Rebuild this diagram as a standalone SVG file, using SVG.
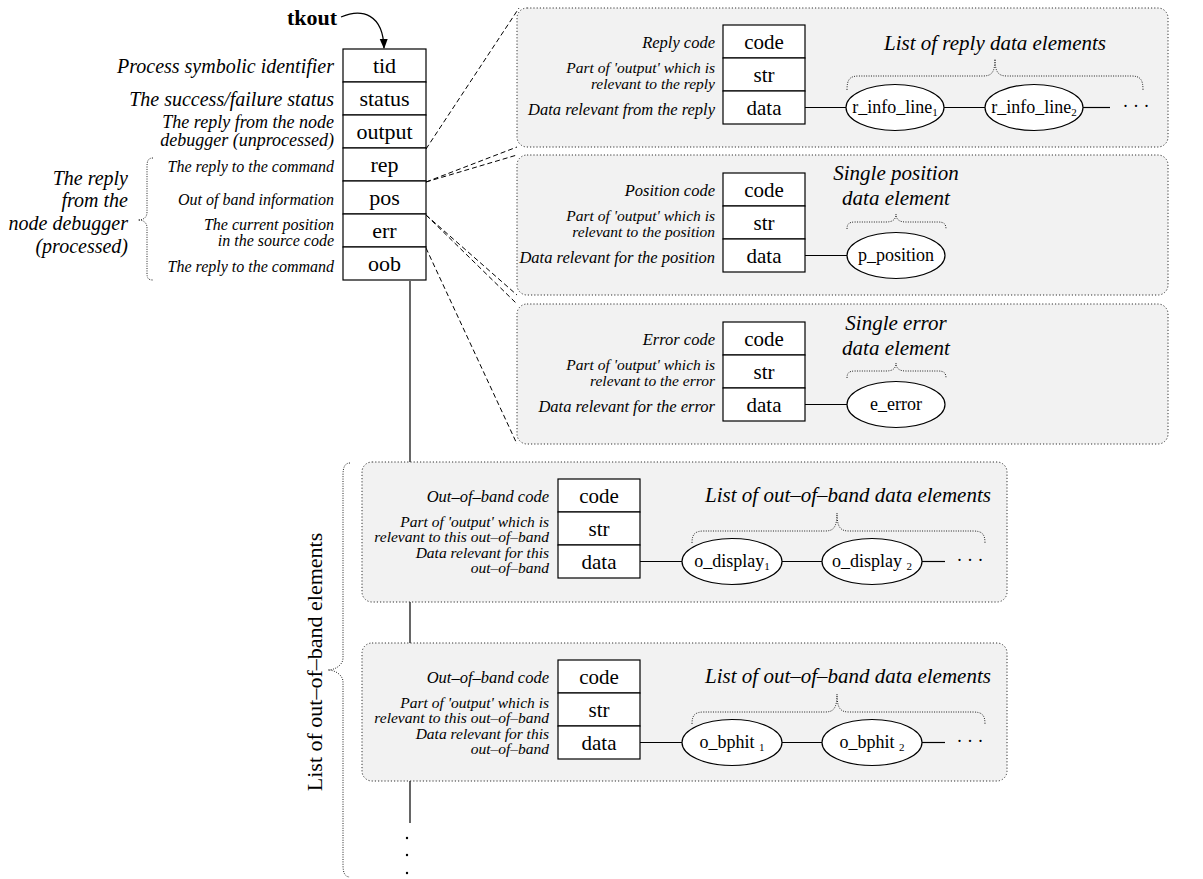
<svg xmlns="http://www.w3.org/2000/svg" width="1203" height="879" viewBox="0 0 1203 879" font-family="'Liberation Serif', 'Times New Roman', serif">
  <defs>
    <marker id="arrowhead" viewBox="0 0 10 10" refX="9" refY="5" markerWidth="10" markerHeight="10" markerUnits="userSpaceOnUse" orient="auto">
      <path d="M0,1 L10,5 L0,9 Z" fill="#000"/>
    </marker>
  </defs>
  <style>
    text { font-family: "Liberation Serif", "Times New Roman", serif; fill: #000; }
    .lbl { font-style: italic; text-anchor: end; }
    .lbl-big { font-size: 20px; }
    .lbl-mid { font-size: 18px; }
    .lbl-small { font-size: 16px; }
    .plbl { font-size: 16.5px; }
    .olbl { font-size: 15.5px; }
    .title { font-style: italic; font-size: 21px; text-anchor: middle; }
    .cell { font-size: 22px; text-anchor: middle; }
    .pcell { font-size: 21px; text-anchor: middle; }
    .elt { font-size: 18px; text-anchor: middle; }
    .sub { font-size: 11px; }
    .box { fill: #fff; stroke: #000; stroke-width: 1.2; }
    .panel { fill: #f2f2f2; stroke: #333; stroke-width: 1; stroke-dasharray: 1.2 2; }
    .brace { fill: none; stroke: #222; stroke-width: 1; stroke-dasharray: 1 1.4; }
    .link { fill: none; stroke: #000; stroke-width: 1.2; }
    .zoom { fill: none; stroke: #000; stroke-width: 1; stroke-dasharray: 5 3; }
    .ell { fill: #fff; stroke: #000; stroke-width: 1.2; }
  </style>

  <!-- connectors: oob chain, zoom-out lines, pointer arrow -->
  <g id="connectors">
    <line class="link" x1="410" y1="281" x2="410" y2="823"/>
    <circle cx="407" cy="838" r="1.2" fill="#000"/>
    <circle cx="407" cy="855" r="1.2" fill="#000"/>
    <circle cx="407" cy="873" r="1.2" fill="#000"/>
    <line class="zoom" x1="426" y1="149" x2="519" y2="8"/>
    <line class="zoom" x1="426" y1="182" x2="517" y2="147"/>
    <line class="zoom" x1="426" y1="182" x2="517" y2="155"/>
    <line class="zoom" x1="426" y1="215" x2="517" y2="295"/>
    <line class="zoom" x1="426" y1="215" x2="517" y2="304"/>
    <line class="zoom" x1="426" y1="248" x2="517" y2="444"/>
    <path class="link" d="M341,17 C362,8 383,14 384,48" marker-end="url(#arrowhead)"/>
  </g>

  <!-- tkout structure -->
  <g id="tkout">
    <text x="337" y="25" font-weight="bold" font-size="22" text-anchor="end">tkout</text>
    <rect class="box" x="343" y="49" width="83" height="33"/>
    <rect class="box" x="343" y="82" width="83" height="33"/>
    <rect class="box" x="343" y="115" width="83" height="33"/>
    <rect class="box" x="343" y="148" width="83" height="33"/>
    <rect class="box" x="343" y="181" width="83" height="33"/>
    <rect class="box" x="343" y="214" width="83" height="33"/>
    <rect class="box" x="343" y="247" width="83" height="33"/>
    <text class="cell" x="384.5" y="73">tid</text>
    <text class="cell" x="384.5" y="106">status</text>
    <text class="cell" x="384.5" y="139">output</text>
    <text class="cell" x="384.5" y="172">rep</text>
    <text class="cell" x="384.5" y="205">pos</text>
    <text class="cell" x="384.5" y="238">err</text>
    <text class="cell" x="384.5" y="271">oob</text>

    <text class="lbl lbl-big" x="334" y="73">Process symbolic identifier</text>
    <text class="lbl lbl-big" x="334" y="106">The success/failure status</text>
    <text class="lbl lbl-mid" x="334" y="128">The reply from the node</text>
    <text class="lbl lbl-mid" x="334" y="146">debugger (unprocessed)</text>
    <text class="lbl lbl-small" x="334" y="172">The reply to the command</text>
    <text class="lbl lbl-small" x="334" y="205">Out of band information</text>
    <text class="lbl lbl-small" x="334" y="230">The current position</text>
    <text class="lbl lbl-small" x="334" y="246">in the source code</text>
    <text class="lbl lbl-small" x="334" y="272">The reply to the command</text>

    <path class="brace" d="M153,158 C148,158 147,161 147,167 L147,212 C147,217 144,220 138,220 C144,220 147,223 147,228 L147,273 C147,278 148,280 153,280"/>
    <text class="lbl lbl-big" x="128" y="185">The reply</text>
    <text class="lbl lbl-big" x="128" y="207">from the</text>
    <text class="lbl lbl-big" x="128" y="230">node debugger</text>
    <text class="lbl lbl-big" x="128" y="253">(processed)</text>
  </g>

  <!-- reply record -->
  <g id="reply">
    <rect class="panel" x="517" y="8" width="651" height="139" rx="10"/>
    <text class="lbl plbl" x="715" y="48">Reply code</text>
    <text class="lbl olbl" x="715" y="73">Part of 'output' which is</text>
    <text class="lbl olbl" x="715" y="89">relevant to the reply</text>
    <text class="lbl plbl" x="715" y="115">Data relevant from the reply</text>
    <rect class="box" x="723" y="25" width="82" height="33"/>
    <rect class="box" x="723" y="58" width="82" height="33"/>
    <rect class="box" x="723" y="91" width="82" height="33"/>
    <text class="pcell" x="764" y="49">code</text>
    <text class="pcell" x="764" y="82">str</text>
    <text class="pcell" x="764" y="115">data</text>
    <text class="title" x="995" y="50">List of reply data elements</text>
    <path class="brace" d="M847,90 C847,79 850,76 859,76 L983,76 C991,76 995,73 995,59 C995,73 999,76 1007,76 L1131,76 C1140,76 1143,79 1143,90"/>
    <line class="link" x1="805" y1="107.5" x2="846" y2="107.5"/>
    <line class="link" x1="944" y1="107.5" x2="985" y2="107.5"/>
    <line class="link" x1="1083" y1="107.5" x2="1110" y2="107.5"/>
    <ellipse class="ell" cx="895" cy="107.5" rx="49" ry="23"/>
    <ellipse class="ell" cx="1034" cy="107.5" rx="49" ry="23"/>
    <text class="elt" x="895" y="113">r_info_line<tspan class="sub" dy="3">1</tspan></text>
    <text class="elt" x="1034" y="113">r_info_line<tspan class="sub" dy="3">2</tspan></text>
    <text x="1136" y="112" font-size="18" text-anchor="middle">· · ·</text>
  </g>

  <!-- position record -->
  <g id="position">
    <rect class="panel" x="517" y="155" width="651" height="140" rx="10"/>
    <text class="lbl plbl" x="715" y="196">Position code</text>
    <text class="lbl olbl" x="715" y="221">Part of 'output' which is</text>
    <text class="lbl olbl" x="715" y="237">relevant to the position</text>
    <text class="lbl plbl" x="715" y="263">Data relevant for the position</text>
    <rect class="box" x="723" y="173" width="82" height="33"/>
    <rect class="box" x="723" y="206" width="82" height="33"/>
    <rect class="box" x="723" y="239" width="82" height="33"/>
    <text class="pcell" x="764" y="197">code</text>
    <text class="pcell" x="764" y="230">str</text>
    <text class="pcell" x="764" y="263">data</text>
    <text class="title" x="896" y="180">Single position</text>
    <text class="title" x="896" y="205">data element</text>
    <path class="brace" d="M847,229 C847,224 849,222 855,222 L886,222 C892,222 896,220 896,214 C896,220 900,222 906,222 L938,222 C944,222 946,224 946,229"/>
    <line class="link" x1="805" y1="255.5" x2="847" y2="255.5"/>
    <ellipse class="ell" cx="896" cy="255.5" rx="49" ry="23"/>
    <text class="elt" x="896" y="261">p_position</text>
  </g>

  <!-- error record -->
  <g id="error">
    <rect class="panel" x="517" y="304" width="651" height="140" rx="10"/>
    <text class="lbl plbl" x="715" y="345">Error code</text>
    <text class="lbl olbl" x="715" y="370">Part of 'output' which is</text>
    <text class="lbl olbl" x="715" y="386">relevant to the error</text>
    <text class="lbl plbl" x="715" y="412">Data relevant for the error</text>
    <rect class="box" x="723" y="322" width="82" height="33"/>
    <rect class="box" x="723" y="355" width="82" height="33"/>
    <rect class="box" x="723" y="388" width="82" height="33"/>
    <text class="pcell" x="764" y="346">code</text>
    <text class="pcell" x="764" y="379">str</text>
    <text class="pcell" x="764" y="412">data</text>
    <text class="title" x="896" y="330">Single error</text>
    <text class="title" x="896" y="355">data element</text>
    <path class="brace" d="M847,378 C847,373 849,371 855,371 L886,371 C892,371 896,369 896,363 C896,369 900,371 906,371 L938,371 C944,371 946,373 946,378"/>
    <line class="link" x1="805" y1="404.5" x2="847" y2="404.5"/>
    <ellipse class="ell" cx="896" cy="404.5" rx="49" ry="23"/>
    <text class="elt" x="896" y="410">e_error</text>
  </g>

  <!-- out-of-band list -->
  <g id="oob-list">
    <path class="brace" d="M350,463 C345,463 343,467 343,475 L343,658 C343,665 335,670 328,670 C335,670 343,675 343,682 L343,865 C343,873 345,877 350,877"/>
    <text font-size="22" text-anchor="middle" transform="translate(322,662) rotate(-90)">List of out–of–band elements</text>
  </g>

  <!-- out-of-band record: display -->
  <g id="oob-display">
    <rect class="panel" x="362" y="462" width="645" height="140" rx="10"/>
    <text class="lbl plbl" x="549" y="502">Out–of–band code</text>
    <text class="lbl olbl" x="549" y="527">Part of 'output' which is</text>
    <text class="lbl olbl" x="549" y="542">relevant to this out–of–band</text>
    <text class="lbl olbl" x="549" y="558">Data relevant for this</text>
    <text class="lbl olbl" x="549" y="573">out–of–band</text>
    <rect class="box" x="558" y="479" width="82" height="33"/>
    <rect class="box" x="558" y="512" width="82" height="33"/>
    <rect class="box" x="558" y="545" width="82" height="33"/>
    <text class="pcell" x="599" y="503">code</text>
    <text class="pcell" x="599" y="536">str</text>
    <text class="pcell" x="599" y="569">data</text>
    <text class="title" x="848" y="502">List of out–of–band data elements</text>
    <path class="brace" d="M692,543 C692,534 695,531 704,531 L825,531 C833,531 837,528 837,513 C837,528 841,531 849,531 L973,531 C982,531 985,534 985,543"/>
    <line class="link" x1="640" y1="561.5" x2="682" y2="561.5"/>
    <line class="link" x1="782" y1="561.5" x2="822" y2="561.5"/>
    <line class="link" x1="922" y1="561.5" x2="945" y2="561.5"/>
    <ellipse class="ell" cx="732" cy="561.5" rx="50" ry="23"/>
    <ellipse class="ell" cx="872" cy="561.5" rx="50" ry="23"/>
    <text class="elt" x="732" y="567">o_display<tspan class="sub" dy="3">1</tspan></text>
    <text class="elt" x="872" y="567">o_display <tspan class="sub" dy="3">2</tspan></text>
    <text x="970" y="566" font-size="18" text-anchor="middle">· · ·</text>
  </g>

  <!-- out-of-band record: breakpoint hit -->
  <g id="oob-bphit">
    <rect class="panel" x="362" y="643" width="645" height="138" rx="10"/>
    <text class="lbl plbl" x="549" y="683">Out–of–band code</text>
    <text class="lbl olbl" x="549" y="708">Part of 'output' which is</text>
    <text class="lbl olbl" x="549" y="723">relevant to this out–of–band</text>
    <text class="lbl olbl" x="549" y="739">Data relevant for this</text>
    <text class="lbl olbl" x="549" y="754">out–of–band</text>
    <rect class="box" x="558" y="660" width="82" height="33"/>
    <rect class="box" x="558" y="693" width="82" height="33"/>
    <rect class="box" x="558" y="726" width="82" height="33"/>
    <text class="pcell" x="599" y="684">code</text>
    <text class="pcell" x="599" y="717">str</text>
    <text class="pcell" x="599" y="750">data</text>
    <text class="title" x="848" y="683">List of out–of–band data elements</text>
    <path class="brace" d="M692,724 C692,715 695,712 704,712 L825,712 C833,712 837,709 837,694 C837,709 841,712 849,712 L973,712 C982,712 985,715 985,724"/>
    <line class="link" x1="640" y1="742.5" x2="682" y2="742.5"/>
    <line class="link" x1="782" y1="742.5" x2="822" y2="742.5"/>
    <line class="link" x1="922" y1="742.5" x2="945" y2="742.5"/>
    <ellipse class="ell" cx="732" cy="742.5" rx="50" ry="23"/>
    <ellipse class="ell" cx="872" cy="742.5" rx="50" ry="23"/>
    <text class="elt" x="732" y="748">o_bphit <tspan class="sub" dy="3">1</tspan></text>
    <text class="elt" x="872" y="748">o_bphit <tspan class="sub" dy="3">2</tspan></text>
    <text x="970" y="747" font-size="18" text-anchor="middle">· · ·</text>
  </g>
</svg>
